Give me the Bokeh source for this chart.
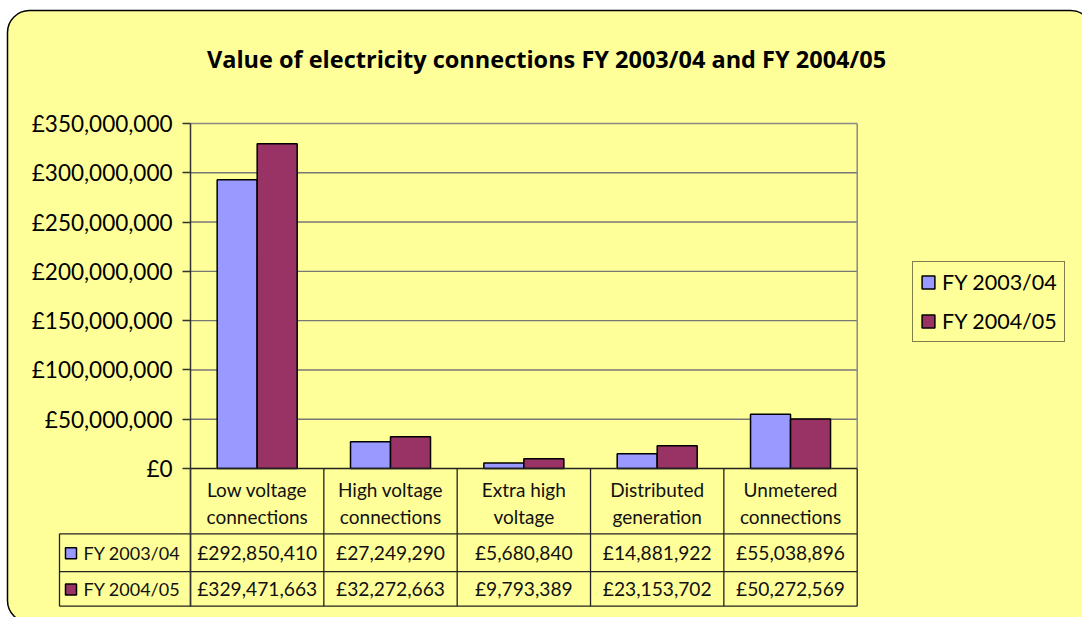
from bokeh.plotting import figure
from bokeh.models import Range1d, FixedTicker, Legend, LegendItem, BoxAnnotation, ColumnDataSource
from bokeh.core.properties import value
from bokeh.embed import file_html
from bokeh.resources import INLINE

# ---------------- data ----------------
categories = ["Low voltage connections", "High voltage connections",
              "Extra high voltage", "Distributed generation", "Unmetered connections"]
series_names = ["FY 2003/04", "FY 2004/05"]
fy2003_04 = [292850410, 27249290, 5680840, 14881922, 55038896]
fy2004_05 = [329471663, 32272663, 9793389, 23153702, 50272569]
y_ticks = [0, 50000000, 100000000, 150000000, 200000000, 250000000, 300000000, 350000000]
title_text = "Value of electricity connections FY 2003/04 and FY 2004/05"
colors = ["#9999FF", "#993366"]

# ---------------- layout (image pixels) ----------------
FONT = "Lato"
TITLE_FONT = "Open Sans"
W, H = 1082, 617
OX, OY = 0, 0
CAT0_PX, CAT_W = 190.0, 133.34
ZERO_PX, TOP_PX = 468.0, 123.0
YMAX = y_ticks[-1]
PX_PER_VAL = (ZERO_PX - TOP_PX) / YMAX


def xv(px):
    return (px - CAT0_PX) / CAT_W


def yv(px):
    return (ZERO_PX - px) / PX_PER_VAL


# frame covers the whole canvas
p = figure(width=W, height=H, output_backend="svg", toolbar_location=None,
           x_range=Range1d(xv(OX), xv(OX + W)), y_range=Range1d(yv(OY + H), yv(OY)),
           x_axis_location=None, y_axis_location="left",
           min_border=0, min_border_left=0, min_border_right=0,
           min_border_top=0, min_border_bottom=0)
p.title.visible = False
p.extra_x_ranges = {"px": Range1d(OX, OX + W)}
p.extra_y_ranges = {"px": Range1d(OY + H, OY)}
p.border_fill_color = "white"
p.background_fill_color = "white"
p.outline_line_color = None
p.grid.visible = False

# chart area background with rounded corners (canvas units, y from top)
p.add_layout(BoxAnnotation(left=7, right=1092, top=10, bottom=622,
                           left_units="canvas", right_units="canvas",
                           top_units="canvas", bottom_units="canvas",
                           fill_color="#FFFF99", fill_alpha=1.0, line_color="black",
                           line_alpha=1.0, line_width=1.5, border_radius=22,
                           level="underlay"))

# title
p.text(x=[546], y=[58], text=[title_text], x_range_name="px", y_range_name="px",
       text_font=value(TITLE_FONT), text_font_style="bold", text_font_size="23.5px",
       text_align="center", text_baseline="middle", text_color="black")

n = len(categories)
centers = [i + 0.5 for i in range(n)]

# gridlines and plot-area border
grid_vals = [t for t in y_ticks if 0 < t < YMAX]
p.segment(x0=[0] * len(grid_vals), x1=[n] * len(grid_vals), y0=grid_vals, y1=grid_vals,
          line_color="#777777", line_width=1.4)
p.segment(x0=[0, n], x1=[n, n], y0=[YMAX, 0], y1=[YMAX, YMAX],
          line_color="#888888", line_width=1.5)

# bars
bw = 0.3
src = ColumnDataSource(dict(x1=[c - bw / 2 for c in centers], x2=[c + bw / 2 for c in centers],
                            a=fy2003_04, b=fy2004_05))
r1 = p.vbar(x="x1", top="a", width=bw, bottom=0, source=src, fill_color=colors[0],
            line_color="black", line_width=1.5)
r2 = p.vbar(x="x2", top="b", width=bw, bottom=0, source=src, fill_color=colors[1],
            line_color="black", line_width=1.5)

# y axis at category boundary 0
ax = p.yaxis[0]
ax.fixed_location = 0
ax.ticker = FixedTicker(ticks=y_ticks)
ax.major_label_overrides = {t: "£{:,}".format(t) for t in y_ticks}
ax.bounds = (yv(605.7), YMAX)
ax.axis_line_color = "#333333"
ax.axis_line_width = 1.5
ax.major_tick_line_color = "#333333"
ax.major_tick_line_width = 1.5
ax.major_tick_out = 8
ax.major_tick_in = 0
ax.minor_tick_line_color = None
ax.major_label_text_font = FONT
ax.major_label_text_font_size = "22.5px"
ax.major_label_text_color = "black"
ax.major_label_standoff = 10

# ---------------- data table ----------------
ROW_TOP, ROW1, ROW2 = 533.3, 571.2, 605.7
XL = xv(59)
lc = "#222222"
# category axis line
p.segment(x0=[0], x1=[n], y0=[ZERO_PX], y1=[ZERO_PX], y_range_name="px",
          line_color="#222222", line_width=1.6)
# horizontal rules
p.segment(x0=[XL] * 3, x1=[n] * 3, y0=[ROW_TOP, ROW1, ROW2], y1=[ROW_TOP, ROW1, ROW2],
          y_range_name="px", line_color=lc, line_width=1.3)
# vertical rules
bounds_x = list(range(n + 1))
p.segment(x0=bounds_x, x1=bounds_x, y0=[ZERO_PX] * (n + 1), y1=[ROW2] * (n + 1),
          y_range_name="px", line_color=lc, line_width=1.3)
p.segment(x0=[XL], x1=[XL], y0=[ROW_TOP], y1=[ROW2], y_range_name="px",
          line_color=lc, line_width=1.3)

# header labels (two lines)
line1 = [c.rsplit(" ", 1)[0] for c in categories]
line2 = [c.rsplit(" ", 1)[1] for c in categories]
for txt, ly in ((line1, 489), (line2, 516)):
    p.text(x=centers, y=[ly] * n, text=txt, y_range_name="px",
           text_font=value(FONT), text_font_size="19px", text_align="center",
           text_baseline="middle", text_color="#111111")

# values
row_y = [(ROW_TOP + ROW1) / 2, (ROW1 + ROW2) / 2]
for vals, ry in zip([fy2003_04, fy2004_05], row_y):
    p.text(x=centers, y=[ry] * n, text=["£{:,}".format(v) for v in vals], y_range_name="px",
           text_font=value(FONT), text_font_size="19.2px", text_align="center",
           text_baseline="middle", text_color="#111111")

# row keys and names
p.scatter(x=[70.5, 70.5], y=[ry + 0.5 for ry in row_y], marker="square", size=11,
          fill_color=colors, line_color="black", line_width=1.5,
          x_range_name="px", y_range_name="px")
p.text(x=[83, 83], y=row_y, text=series_names, x_range_name="px", y_range_name="px",
       text_font=value(FONT), text_font_size="18px", text_align="left",
       text_baseline="middle", text_color="#111111")

# legend (inside the full-canvas frame, screen units from bottom-left)
legend = Legend(items=[LegendItem(label=series_names[0], renderers=[r1]),
                       LegendItem(label=series_names[1], renderers=[r2])],
                location=(912 - OX, (OY + H) - 342), orientation="vertical")
legend.border_line_color = "black"
legend.border_line_width = 1.3
legend.background_fill_color = "#FFFF99"
legend.background_fill_alpha = 1.0
legend.label_text_font = FONT
legend.label_text_font_size = "21.5px"
legend.label_text_color = "black"
legend.glyph_width = 16
legend.glyph_height = 16
legend.label_height = 24
legend.padding = 7
legend.spacing = 13
legend.label_standoff = 6
legend.margin = 0
p.add_layout(legend, "center")

open("out.html", "w").write(file_html(p, INLINE))
